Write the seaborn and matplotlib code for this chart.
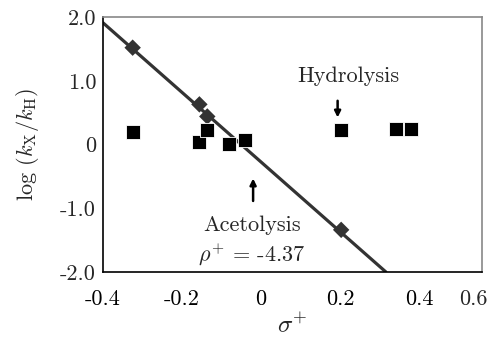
"""
Hammett-type plot: acetolysis vs hydrolysis rates against sigma+.
"""

import matplotlib

matplotlib.use("Agg")
import matplotlib.pyplot as plt
import seaborn as sns
import pandas as pd

# Acetolysis points (diamonds)
acet_sigma = [-0.325, -0.156, -0.136, 0.203]
acet_logk = [1.52, 0.63, 0.44, -1.34]

# Hydrolysis points (squares)
hydro_sigma = [-0.325, -0.156, -0.136, -0.08, -0.04, 0.203, 0.342, 0.379]
hydro_logk = [0.19, 0.04, 0.22, 0.0, 0.07, 0.22, 0.25, 0.25]

# Fitted acetolysis line, end points
fit_sigma = [-0.4, 0.316]
fit_logk = [1.91, -2.0]

x_ticks = [-0.4, -0.2, 0.0, 0.2, 0.4]
x_tick_labels = ["-0.4", "-0.2", "0", "0.2", "0.4"]
y_ticks = [-2.0, -1.0, 0.0, 1.0, 2.0]
y_tick_labels = ["-2.0", "-1.0", "0", "1.0", "2.0"]

sns.set_style("white")
plt.rcParams["font.family"] = ["cmr10", "DejaVu Serif"]
plt.rcParams["mathtext.fontset"] = "cm"
plt.rcParams["axes.unicode_minus"] = False

FS = 16

acet = pd.DataFrame({"sigma": acet_sigma, "logk": acet_logk})
hydro = pd.DataFrame({"sigma": hydro_sigma, "logk": hydro_logk})
fit = pd.DataFrame({"sigma": fit_sigma, "logk": fit_logk})

fig = plt.figure(figsize=(4.93, 3.42), dpi=100)
ax = fig.add_axes([0.209, 0.205, 0.769, 0.745])

sns.lineplot(data=fit, x="sigma", y="logk", color="#333333", linewidth=2.3, ax=ax,
             zorder=2)
sns.scatterplot(data=acet, x="sigma", y="logk", marker="D", s=70, color="#333333",
                edgecolor="none", ax=ax, zorder=3)
sns.scatterplot(data=hydro, x="sigma", y="logk", marker="s", s=105, color="black",
                edgecolor="white", linewidth=0.6, ax=ax, zorder=4)

ax.set_xlim(-0.4, 0.56)
ax.set_ylim(-2.0, 2.0)
ax.set_xticks(x_ticks)
ax.set_xticklabels(x_tick_labels)
ax.set_yticks(y_ticks)
ax.set_yticklabels(y_tick_labels)
ax.tick_params(axis="x", direction="in", length=3, width=0.8, labelsize=FS,
               pad=13, colors="black")
ax.tick_params(axis="y", length=0, pad=5, labelsize=FS)

# last tick label sits just past the right edge of the frame
ax.annotate("0.6", xy=(0.537, 0), xycoords=("data", "axes fraction"),
            xytext=(0, -13), textcoords="offset points", ha="center", va="top",
            fontsize=FS, annotation_clip=False)

for side in ["left", "bottom"]:
    ax.spines[side].set_color("black")
    ax.spines[side].set_linewidth(1.2)
for side in ["top", "right"]:
    ax.spines[side].set_color("#888888")
    ax.spines[side].set_linewidth(1.2)

ax.set_xlabel(r"$\sigma^{+}$", fontsize=18, labelpad=3)
ax.set_ylabel(r"log ($k_{\rm X}/k_{\rm H}$)", fontsize=16, labelpad=14)

ax.text(0.222, 1.07, "Hydrolysis", ha="center", va="center", fontsize=FS)
ax.annotate("", xy=(0.194, 0.38), xytext=(0.194, 0.73),
            arrowprops=dict(arrowstyle="-|>", color="black", lw=1.8,
                            mutation_scale=9))
ax.annotate("", xy=(-0.02, -0.49), xytext=(-0.02, -0.93),
            arrowprops=dict(arrowstyle="-|>", color="black", lw=1.8,
                            mutation_scale=9))
ax.text(-0.023, -1.27, "Acetolysis", ha="center", va="center", fontsize=FS)
ax.text(-0.023, -1.72, r"$\rho^{+}$ = -4.37", ha="center", va="center", fontsize=FS)

plt.savefig("out.png", dpi=100)
